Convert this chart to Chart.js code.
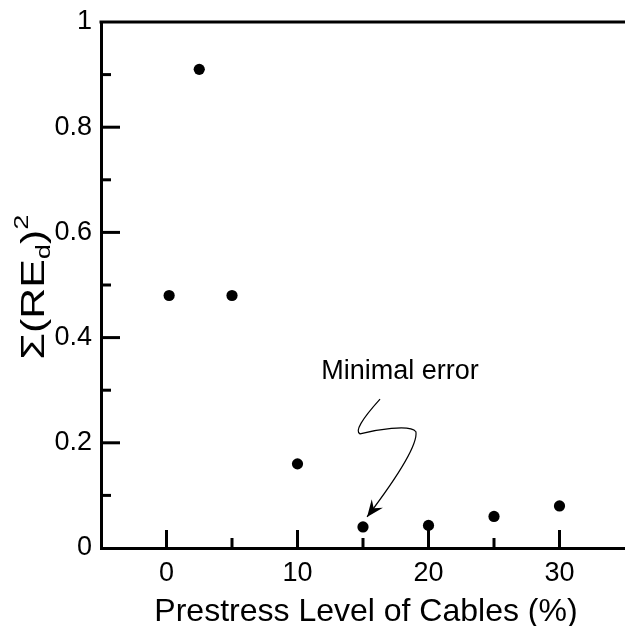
<!DOCTYPE html>
<html>
<head>
<meta charset="utf-8">
<script src="https://cdn.jsdelivr.net/npm/chart.js@4"></script>
<style>
html,body{margin:0;padding:0;background:#fff;}
#wrap{width:625px;height:626px;position:relative;}
</style>
</head>
<body>
<div id="wrap"><canvas id="c" width="625" height="626"></canvas></div>
<script>
// Data
const prestress = [0.2, 2.5, 5, 10, 15, 20, 25, 30];
const errorSum  = [0.48, 0.91, 0.48, 0.16, 0.04, 0.043, 0.06, 0.08];
const xTickLabels = [0, 10, 20, 30];
const yTickLabels = [0, 0.2, 0.4, 0.6, 0.8, 1];
const xMinorTicks = [5, 15, 25];
const yMinorTicks = [0.1, 0.3, 0.5, 0.7, 0.9];
const annotationText = "Minimal error";
// annotation arrow path in data space
const arrowStart = [16.3, 0.283];
const arrowSegs = [
  {type:'q', pts:[[14.16,0.224],[14.77,0.217]]},
  {type:'c', pts:[[15.92,0.224],[18.59,0.236],[19.04,0.221]]},
  {type:'c', pts:[[19.2,0.196],[17.44,0.129],[15.31,0.059]]}
];
const annotationPos = [17.82, 0.335];

const FONT = "'Liberation Sans', Arial, sans-serif";

const decor = {
  id: 'decor',
  afterDraw(chart) {
    const ctx = chart.ctx, ca = chart.chartArea;
    const xs = chart.scales.x, ys = chart.scales.y;
    ctx.save();
    ctx.strokeStyle = '#000';
    ctx.lineCap = 'butt';
    // top border
    ctx.lineWidth = 3;
    ctx.beginPath();
    ctx.moveTo(ca.left - 1.5, ca.top);
    ctx.lineTo(chart.width, ca.top);
    ctx.stroke();
    // inward ticks
    const xt = (v, len) => { const p = xs.getPixelForValue(v); ctx.beginPath(); ctx.moveTo(p, ca.bottom); ctx.lineTo(p, ca.bottom - len); ctx.stroke(); };
    const yt = (v, len) => { const p = ys.getPixelForValue(v); ctx.beginPath(); ctx.moveTo(ca.left, p); ctx.lineTo(ca.left + len, p); ctx.stroke(); };
    xTickLabels.forEach(v => xt(v, 18));
    xMinorTicks.forEach(v => xt(v, 10));
    yTickLabels.forEach(v => { if (v > 0 && v < 1) yt(v, 19); });
    yMinorTicks.forEach(v => yt(v, 10));

    // y-axis title with subscript & superscript (rotated, stretched along text)
    ctx.save();
    ctx.translate(44, 287);
    ctx.rotate(-Math.PI / 2);
    ctx.scale(1.3, 1);
    ctx.fillStyle = '#000';
    ctx.textBaseline = 'alphabetic';
    const big = "33px " + FONT, small = "21px " + FONT;
    const parts = [
      {t: 'Σ(RE', f: big, dy: 0},
      {t: 'd', f: small, dy: 6},
      {t: ')', f: big, dy: 0},
      {t: '2', f: small, dy: -16}
    ];
    let w = 0;
    parts.forEach(p => { ctx.font = p.f; w += ctx.measureText(p.t).width; });
    let x = -w / 2;
    parts.forEach(p => { ctx.font = p.f; ctx.fillText(p.t, x, p.dy); x += ctx.measureText(p.t).width; });
    ctx.restore();

    // x-axis title
    ctx.fillStyle = '#000';
    ctx.font = "32px " + FONT;
    ctx.textAlign = 'center';
    ctx.textBaseline = 'alphabetic';
    ctx.fillText('Prestress Level of Cables (%)', 366, 621);

    // annotation
    const px = d => [xs.getPixelForValue(d[0]), ys.getPixelForValue(d[1])];
    ctx.font = "27px " + FONT;
    const ap = px(annotationPos);
    ctx.textBaseline = 'middle';
    ctx.fillText(annotationText, ap[0], ap[1]);
    ctx.lineWidth = 1.2;
    ctx.beginPath();
    let s = px(arrowStart);
    ctx.moveTo(s[0], s[1]);
    let prev = s, lastCtrl = s;
    arrowSegs.forEach(seg => {
      const p = seg.pts.map(px);
      if (seg.type === 'q') ctx.quadraticCurveTo(p[0][0], p[0][1], p[1][0], p[1][1]);
      else ctx.bezierCurveTo(p[0][0], p[0][1], p[1][0], p[1][1], p[2][0], p[2][1]);
      lastCtrl = p[p.length - 2]; prev = p[p.length - 1];
    });
    ctx.stroke();
    // arrowhead
    const ang = Math.atan2(prev[1] - lastCtrl[1], prev[0] - lastCtrl[0]);
    ctx.save();
    ctx.translate(prev[0], prev[1]);
    ctx.rotate(ang);
    ctx.beginPath();
    ctx.moveTo(0, 0);
    ctx.lineTo(-17, -7);
    ctx.lineTo(-11, 0);
    ctx.lineTo(-17, 7);
    ctx.closePath();
    ctx.fill();
    ctx.restore();
    ctx.restore();
  }
};

new Chart(document.getElementById('c'), {
  type: 'scatter',
  data: {
    datasets: [{
      data: prestress.map((x, i) => ({x: x, y: errorSum[i]})),
      backgroundColor: '#000',
      borderColor: '#000',
      pointRadius: 5.6,
      pointHoverRadius: 5.6,
      borderWidth: 0,
      clip: false
    }]
  },
  options: {
    responsive: false,
    animation: false,
    devicePixelRatio: 1,
    layout: {autoPadding: false, padding: {top: 22, right: 0, left: 0, bottom: 0}},
    plugins: {legend: {display: false}, tooltip: {enabled: false}},
    scales: {
      x: {
        type: 'linear', min: -5, max: 35,
        afterBuildTicks: s => { s.ticks = xTickLabels.map(v => ({value: v})); },
        afterFit: s => { s.height = 78; s.paddingLeft = 0; s.paddingRight = 0; },
        grid: {display: false, drawTicks: false},
        border: {display: true, color: '#000', width: 3},
        ticks: {color: '#000', font: {family: FONT, size: 27}, padding: 9, maxRotation: 0,
                callback: v => String(v)}
      },
      y: {
        type: 'linear', min: 0, max: 1,
        afterBuildTicks: s => { s.ticks = yTickLabels.map(v => ({value: v})); },
        afterFit: s => { s.width = 101; s.paddingTop = 0; s.paddingBottom = 0; },
        grid: {display: false, drawTicks: false},
        border: {display: true, color: '#000', width: 3},
        ticks: {color: '#000', font: {family: FONT, size: 27}, padding: 9,
                callback: v => String(v)}
      }
    }
  },
  plugins: [decor]
});
</script>
</body>
</html>
